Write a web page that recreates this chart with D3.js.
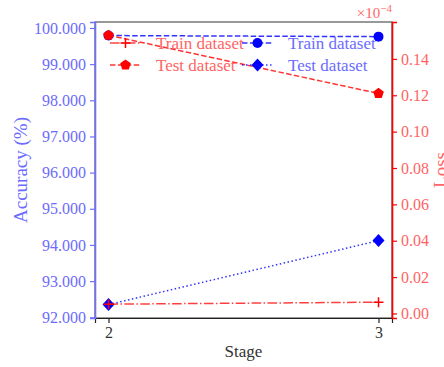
<!DOCTYPE html>
<html>
<head>
<meta charset="utf-8">
<script src="https://cdn.jsdelivr.net/npm/d3@7"></script>
<style>
  html, body { margin: 0; padding: 0; background: #fff; }
  svg text { font-family: "Liberation Serif", "Times New Roman", "DejaVu Serif", serif !important; }
</style>
</head>
<body>
<svg id="chart" width="444" height="367"></svg>
<script>
// Stages on the x axis
const stages = [2, 3];
// Accuracy (%) on the left axis
const accTrain = [99.79, 99.76];
const accTest = [92.35, 94.12];
// Loss on the right axis, in units of 1e-4
const lossTrain = [0.0051, 0.0062];
const lossTest = [0.153, 0.121];
// Tick labels
const accTicks = [92, 93, 94, 95, 96, 97, 98, 99, 100];
const lossTicks = [0.00, 0.02, 0.04, 0.06, 0.08, 0.10, 0.12, 0.14];
const legendLabels = ["Train dataset", "Test dataset"];

const svg = d3.select("#chart");
const m = { left: 95, right: 392, top: 22, bottom: 318 };

const BLUE = "#0000ff", RED = "#ff0000";
const blueText = "#6b6bff", redText = "#ff6464";

const x = d3.scaleLinear().domain([1.95, 3.05]).range([m.left, m.right]);
const yAcc = d3.scaleLinear().domain([91.98, 100.165]).range([m.bottom, m.top]);
const yLoss = d3.scaleLinear().domain([-0.0025, 0.1603]).range([m.bottom, m.top]);

// Frame
svg.append("rect")
  .attr("x", m.left).attr("y", m.top)
  .attr("width", m.right - m.left).attr("height", m.bottom - m.top)
  .attr("fill", "none").attr("stroke", "#555").attr("stroke-width", 1.2);

// Bottom axis
const xAxis = svg.append("g").attr("transform", `translate(0,${m.bottom})`)
  .call(d3.axisBottom(x).tickValues(stages).tickFormat(d3.format("d")).tickSize(5).tickPadding(4));
xAxis.select(".domain").attr("stroke", "#222").attr("stroke-width", 1.2);
xAxis.selectAll(".tick line").attr("stroke", "#222").attr("stroke-width", 1.2);
xAxis.selectAll("text").attr("font-size", 16).attr("fill", "#333");

// Left axis (accuracy)
const lAxis = svg.append("g").attr("transform", `translate(${m.left},0)`)
  .call(d3.axisLeft(yAcc).tickValues(accTicks).tickFormat(d3.format(".3f")).tickSize(5).tickPadding(4));
lAxis.select(".domain").attr("stroke", "#7070ff").attr("stroke-width", 1.6);
lAxis.selectAll(".tick line").attr("stroke", "#7070ff").attr("stroke-width", 1.2);
lAxis.selectAll("text").attr("font-size", 16).attr("fill", blueText);

// Right axis (loss)
const rAxis = svg.append("g").attr("transform", `translate(${m.right},0)`)
  .call(d3.axisRight(yLoss).tickValues(lossTicks).tickFormat(d3.format(".2f")).tickSize(5).tickPadding(4));
rAxis.select(".domain").attr("stroke", RED).attr("stroke-width", 1.6);
rAxis.selectAll(".tick line").attr("stroke", RED).attr("stroke-width", 1.2);
rAxis.selectAll("text").attr("font-size", 16).attr("fill", redText);

// Axis labels
svg.append("text").attr("x", (m.left + m.right) / 2).attr("y", 357)
  .attr("text-anchor", "middle").attr("font-size", 17).attr("fill", "#333").text("Stage");
svg.append("text").attr("transform", `translate(27,${(m.top + m.bottom) / 2}) rotate(-90)`)
  .attr("text-anchor", "middle").attr("font-size", 19).attr("fill", blueText).text("Accuracy (%)");
svg.append("text").attr("transform", `translate(447,${(m.top + m.bottom) / 2}) rotate(-90)`)
  .attr("text-anchor", "middle").attr("font-size", 19).attr("fill", redText).text("Loss");

// Offset text for the loss axis
const off = svg.append("text").attr("x", m.right).attr("y", 18).attr("text-anchor", "end")
  .attr("font-size", 15).attr("fill", redText);
off.append("tspan").text("×10");
off.append("tspan").attr("dy", -6).attr("font-size", 11).text("−4");

// Marker shapes
function circlePath(r) {
  return d3.symbol().type(d3.symbolCircle).size(Math.PI * r * r)();
}
function pentagonPath(r) {
  const pts = d3.range(5).map(i => {
    const a = -Math.PI / 2 + i * 2 * Math.PI / 5;
    return [r * Math.cos(a), r * Math.sin(a)];
  });
  return "M" + pts.map(p => p.join(",")).join("L") + "Z";
}
function diamondPath(rx, ry) {
  return `M0,${-ry}L${rx},0L0,${ry}L${-rx},0Z`;
}
function plusPath(r) {
  return `M${-r},0L${r},0M0,${-r}L0,${r}`;
}
function drawMarker(g, kind, cx, cy, color) {
  const t = `translate(${cx},${cy})`;
  if (kind === "circle") {
    g.append("path").attr("d", circlePath(5)).attr("transform", t).attr("fill", color);
  } else if (kind === "diamond") {
    g.append("path").attr("d", diamondPath(6, 6.5)).attr("transform", t).attr("fill", color);
  } else if (kind === "pentagon") {
    g.append("path").attr("d", pentagonPath(5.6)).attr("transform", t).attr("fill", color);
  } else if (kind === "plus") {
    g.append("path").attr("d", plusPath(5)).attr("transform", t)
      .attr("stroke", color).attr("stroke-width", 1.5).attr("fill", "none");
  }
}

const line = (ys, yScale) => d3.line().x((d, i) => x(stages[i])).y(d => yScale(d))(ys);

const series = [
  // accuracy (left axis) drawn first
  { vals: accTrain, scale: yAcc, color: BLUE, dash: "5.5,2.4", marker: "circle", op: 0.8 },
  { vals: accTest, scale: yAcc, color: BLUE, dash: "1.5,2.5", marker: "diamond", op: 0.8 },
  // loss (right axis) on top
  { vals: lossTrain, scale: yLoss, color: RED, dash: "9.6,2.4,1.5,2.4", marker: "plus", op: 0.75 },
  { vals: lossTest, scale: yLoss, color: RED, dash: "5.5,2.4", marker: "pentagon", op: 0.8 },
];

const plot = svg.append("g");
series.forEach(s => {
  plot.append("path").attr("d", line(s.vals, s.scale))
    .attr("fill", "none").attr("stroke", s.color).attr("stroke-opacity", s.op)
    .attr("stroke-width", 1.5).attr("stroke-dasharray", s.dash);
  s.vals.forEach((v, i) => drawMarker(plot, s.marker, x(stages[i]), s.scale(v), s.color));
});

// Legends: loss on the left, accuracy on the right
function legend(x0, items) {
  const g = svg.append("g");
  items.forEach((it, i) => {
    const cy = 43 + i * 22;
    g.append("line").attr("x1", x0).attr("x2", x0 + 31).attr("y1", cy).attr("y2", cy)
      .attr("stroke", it.color).attr("stroke-opacity", it.op).attr("stroke-width", 1.5).attr("stroke-dasharray", it.dash);
    drawMarker(g, it.marker, x0 + 15.5, cy, it.color);
    g.append("text").attr("x", x0 + 46).attr("y", cy + 5.5).attr("font-size", 17)
      .attr("fill", it.color === RED ? redText : blueText).text(it.label);
  });
}
legend(110, [
  { label: legendLabels[0], color: RED, dash: "9.6,2.4,1.5,2.4", marker: "plus", op: 0.75 },
  { label: legendLabels[1], color: RED, dash: "5.5,2.4", marker: "pentagon", op: 0.8 },
]);
legend(242, [
  { label: legendLabels[0], color: BLUE, dash: "5.5,2.4", marker: "circle", op: 0.8 },
  { label: legendLabels[1], color: BLUE, dash: "1.5,2.5", marker: "diamond", op: 0.8 },
]);
</script>
</body>
</html>
